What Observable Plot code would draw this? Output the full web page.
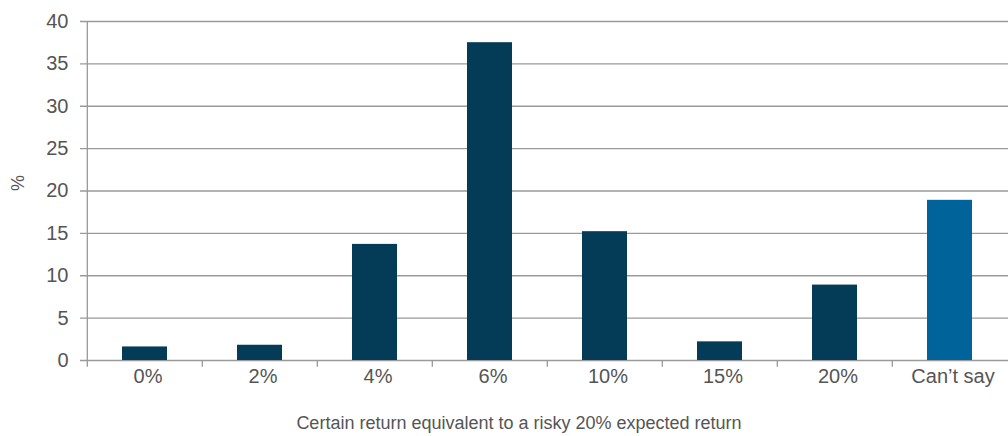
<!DOCTYPE html>
<html>
<head>
<meta charset="utf-8">
<script src="https://cdn.jsdelivr.net/npm/d3@7"></script>
<script src="https://cdn.jsdelivr.net/npm/@observablehq/plot@0.6"></script>
<style>
  html, body { margin: 0; padding: 0; background: #fff; }
</style>
</head>
<body>
<div id="chart"></div>
<script>
// Survey answers: certain return judged equivalent to a risky 20% expected return
const categories = ["0%", "2%", "4%", "6%", "10%", "15%", "20%", "Can\u2019t say"];
const shares = [1.6, 1.8, 13.7, 37.5, 15.2, 2.2, 8.9, 18.9];
const barColors = ["#043b57", "#043b57", "#043b57", "#043b57", "#043b57", "#043b57", "#043b57", "#00649a"];
const yTicks = [0, 5, 10, 15, 20, 25, 30, 35, 40];

const rows = categories.map((c, i) => ({category: c, share: shares[i], color: barColors[i]}));

const W = 1008, H = 436, mL = 85, mR = 0, mT = 21, mB = 76;
const step = (W - mL - mR) / categories.length;
const grey = "#9a9a9a";
const textGrey = "#555";

const chart = Plot.plot({
  width: W,
  height: H,
  marginLeft: mL,
  marginRight: mR,
  marginTop: mT,
  marginBottom: mB,
  style: {fontFamily: "'Liberation Sans', Arial, sans-serif", fontSize: "20px", color: textGrey, background: "#fff"},
  x: {domain: categories, padding: 0, label: null},
  y: {domain: [0, 40], label: null},
  marks: [
    // horizontal gridlines, extended left to form the tick marks
    Plot.ruleY(yTicks, {stroke: grey, strokeWidth: 1.3, insetLeft: -5}),
    // category boundary ticks below the baseline
    Plot.ruleX(categories.slice(1), {x: d => d, dx: -step / 2, y1: 0, y2: -0.8, stroke: grey, strokeWidth: 1.3}),
    // vertical axis line
    Plot.ruleX([categories[0]], {x: d => d, dx: -step / 2, y1: -0.8, y2: 40, stroke: grey, strokeWidth: 1.3}),
    Plot.barY(rows, {x: "category", y: "share", fill: "color", insetLeft: 35, insetRight: 35}),
    Plot.axisY({ticks: yTicks, tickSize: 0, tickPadding: 17, fontSize: 20, fill: textGrey, label: null}),
    Plot.axisX({tickSize: 0, tickPadding: 8, fontSize: 20, fill: textGrey, label: null, dx: 3}),
    Plot.text(["Certain return equivalent to a risky 20% expected return"], {
      frameAnchor: "bottom", dy: 68, dx: -28, fontSize: 18, fill: textGrey
    }),
    Plot.text(["%"], {frameAnchor: "left", dx: -67, rotate: -90, fontSize: 18, fill: textGrey})
  ]
});

document.getElementById("chart").appendChild(chart);
</script>
</body>
</html>
